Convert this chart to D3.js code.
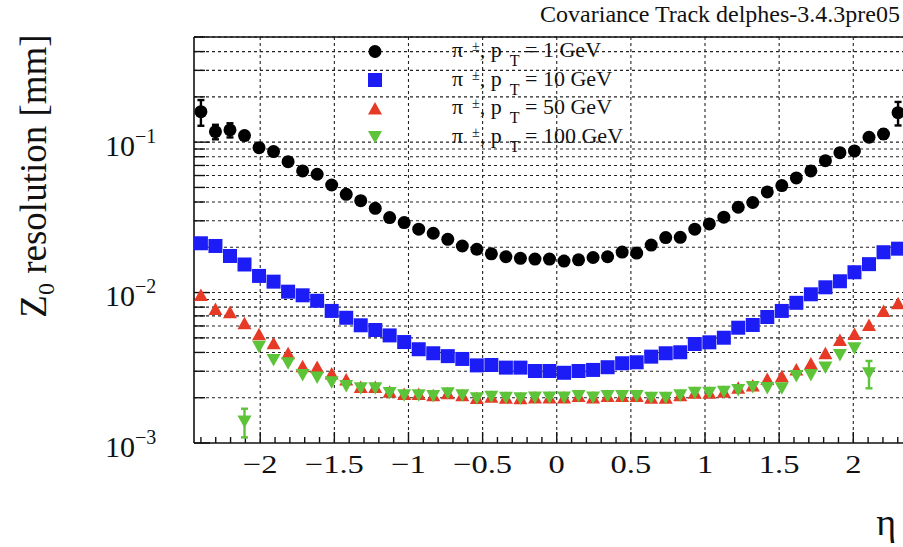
<!DOCTYPE html>
<html>
<head>
<meta charset="utf-8">
<script src="https://cdn.jsdelivr.net/npm/d3@7"></script>
<style>
  html, body { margin: 0; padding: 0; background: #fff; overflow: hidden; }
</style>
</head>
<body>
<svg id="chart" width="903" height="547"></svg>
<script>
// Pseudorapidity bin centres
const eta = [-2.400, -2.302, -2.204, -2.106, -2.008, -1.910, -1.812, -1.714, -1.616, -1.518,
             -1.420, -1.322, -1.224, -1.127, -1.029, -0.931, -0.833, -0.735, -0.637, -0.539,
             -0.441, -0.343, -0.245, -0.147, -0.049, 0.049, 0.147, 0.245, 0.343, 0.441,
             0.539, 0.637, 0.735, 0.833, 0.931, 1.029, 1.127, 1.224, 1.322, 1.420,
             1.518, 1.616, 1.714, 1.812, 1.910, 2.008, 2.106, 2.204, 2.302];

// z0 resolution [mm] for pi+- at pT = 1 GeV
const res1GeV = [0.1595, 0.1174, 0.1205, 0.1105, 0.0919, 0.0865, 0.0742, 0.0644, 0.0612, 0.0519,
                 0.0450, 0.0408, 0.0363, 0.0315, 0.0292, 0.0264, 0.0248, 0.0226, 0.0204, 0.0194,
                 0.0181, 0.0173, 0.0169, 0.0167, 0.0167, 0.0162, 0.0165, 0.0171, 0.0173, 0.0186,
                 0.0183, 0.0207, 0.0232, 0.0233, 0.0264, 0.0286, 0.0317, 0.0369, 0.0397, 0.0467,
                 0.0514, 0.0578, 0.0644, 0.0753, 0.0851, 0.0874, 0.1078, 0.1133, 0.1571];
const err1GeV = [0.031, 0.013, 0.013, 0.006, 0.003, 0.002, 0.002, 0.001, 0.001, 0.001,
                 0, 0, 0, 0, 0, 0, 0, 0, 0, 0,
                 0, 0, 0, 0, 0, 0, 0, 0, 0, 0,
                 0, 0, 0, 0, 0, 0, 0, 0, 0, 0,
                 0.001, 0.001, 0.001, 0.002, 0.002, 0.003, 0.006, 0.008, 0.028];

// pT = 10 GeV
const res10GeV = [0.02127, 0.02041, 0.01751, 0.01537, 0.01290, 0.01182, 0.01014, 0.00959, 0.00882, 0.00755,
                  0.00680, 0.00606, 0.00564, 0.00519, 0.00469, 0.00420, 0.00395, 0.00378, 0.00362, 0.00328,
                  0.00330, 0.00317, 0.00317, 0.00301, 0.00301, 0.00293, 0.00301, 0.00306, 0.00319, 0.00339,
                  0.00344, 0.00375, 0.00395, 0.00401, 0.00455, 0.00467, 0.00501, 0.00584, 0.00609, 0.00688,
                  0.00755, 0.00855, 0.00974, 0.01084, 0.01189, 0.01365, 0.01545, 0.01854, 0.01958];

// pT = 50 GeV
const res50GeV = [0.00964, 0.00778, 0.00740, 0.00625, 0.00528, 0.00460, 0.00395, 0.00324, 0.00320, 0.00290,
                  0.00264, 0.00236, 0.00236, 0.00219, 0.00212, 0.00212, 0.00208, 0.00214, 0.00208, 0.00199,
                  0.00203, 0.00200, 0.00198, 0.00201, 0.00201, 0.00201, 0.00205, 0.00201, 0.00205, 0.00205,
                  0.00205, 0.00200, 0.00200, 0.00208, 0.00216, 0.00216, 0.00219, 0.00233, 0.00241, 0.00266,
                  0.00278, 0.00308, 0.00338, 0.00395, 0.00484, 0.00531, 0.00609, 0.00755, 0.00849];

// pT = 100 GeV (no entry in the outermost bins)
const res100GeV = [null, null, null, 0.00139, 0.00437, 0.00356, 0.00339, 0.00283, 0.00273, 0.00253,
                   0.00239, 0.00231, 0.00231, 0.00215, 0.00208, 0.00208, 0.00205, 0.00214, 0.00208, 0.00198,
                   0.00203, 0.00200, 0.00198, 0.00201, 0.00201, 0.00201, 0.00205, 0.00201, 0.00205, 0.00205,
                   0.00205, 0.00200, 0.00200, 0.00208, 0.00216, 0.00216, 0.00219, 0.00225, 0.00236, 0.00232,
                   0.00231, 0.00279, 0.00283, 0.00318, 0.00385, 0.00426, 0.00291, null, null];
const err100GeV = [0, 0, 0, 0.0003, 0, 0, 0, 0, 0, 0,
                   0, 0, 0, 0, 0, 0, 0, 0, 0, 0,
                   0, 0, 0, 0, 0, 0, 0, 0, 0, 0,
                   0, 0, 0, 0, 0, 0, 0, 0, 0, 0,
                   0, 0, 0, 0, 0, 0, 0.0006, 0, 0];

const xTickValues = [-2, -1.5, -1, -0.5, 0, 0.5, 1, 1.5, 2];
const xTickLabels = ["\u22122", "\u22121.5", "\u22121", "\u22120.5", "0", "0.5", "1", "1.5", "2"];
const yDecades = [0.001, 0.01, 0.1];
const yDecadeExponents = ["\u22123", "\u22122", "\u22121"];
const legendMomenta = ["1", "10", "50", "100"];
const headerText = "Covariance Track delphes-3.4.3pre05";

const serif = "'Liberation Serif', 'Times New Roman', serif";
const svg = d3.select("#chart");

const plot = { left: 194, top: 37, bottom: 443 };
const x = d3.scaleLinear().domain([-2.45, 2.45]).range([193.5, 920]);
const y = d3.scaleLog().domain([0.001, 0.5]).range([443, 37]);

const colours = { c1: "#000000", c10: "#1c1cf6", c50: "#e63a26", c100: "#5dc43a" };

// ---- grid ----
const grid = svg.append("g").attr("stroke", "#222").attr("stroke-width", 1.1)
  .attr("stroke-dasharray", "3,3");
grid.selectAll("line.v").data(xTickValues).join("line")
  .attr("class", "v")
  .attr("x1", d => x(d)).attr("x2", d => x(d))
  .attr("y1", plot.top).attr("y2", plot.bottom);
const yTicks = y.ticks().filter(t => t > 0.001 * 1.0001);
grid.selectAll("line.h").data(yTicks).join("line")
  .attr("class", "h")
  .attr("x1", plot.left).attr("x2", 903)
  .attr("y1", d => y(d)).attr("y2", d => y(d));

// ---- axis ticks ----
const isDecade = t => Math.abs(Math.log10(t) - Math.round(Math.log10(t))) < 1e-6;
const axes = svg.append("g").attr("stroke", "#111").attr("stroke-width", 1.4);
axes.selectAll("line.yt").data(y.ticks()).join("line")
  .attr("class", "yt")
  .attr("x1", plot.left).attr("x2", d => plot.left + (isDecade(d) ? 16 : 11))
  .attr("y1", d => y(d)).attr("y2", d => y(d));
const xMinor = d3.range(-24, 25).map(k => k / 10);
axes.selectAll("line.xt").data(xMinor).join("line")
  .attr("class", "xt")
  .attr("x1", d => x(d)).attr("x2", d => x(d))
  .attr("y1", plot.bottom)
  .attr("y2", d => plot.bottom - (Math.abs(d * 2 - Math.round(d * 2)) < 1e-6 ? 11 : 6));

// ---- frame ----
const frame = svg.append("g").attr("stroke", "#111").attr("stroke-width", 1.6).attr("fill", "none");
frame.append("line").attr("x1", plot.left).attr("x2", plot.left).attr("y1", plot.top).attr("y2", plot.bottom);
frame.append("line").attr("x1", plot.left).attr("x2", 903).attr("y1", plot.bottom).attr("y2", plot.bottom);
frame.append("line").attr("x1", plot.left).attr("x2", 903).attr("y1", plot.top).attr("y2", plot.top);

// ---- markers ----
const markerPath = {
  circle: "M0,-6.5A6.5,6.5 0 1,1 0,6.5A6.5,6.5 0 1,1 0,-6.5Z",
  square: "M-7,-7H7V7H-7Z",
  up: "M0,-6.5L7,6L-7,6Z",
  down: "M0,6.5L7,-6L-7,-6Z"
};

function drawSeries(values, errors, shape, colour) {
  const pts = eta.map((e, i) => ({ e, v: values[i], err: errors ? errors[i] : 0 }))
    .filter(d => d.v != null);
  const g = svg.append("g");
  g.selectAll("g.err").data(pts.filter(d => d.err > 0)).join("g")
    .attr("class", "err")
    .attr("stroke", colour).attr("stroke-width", 2.4)
    .each(function (d) {
      const gg = d3.select(this);
      const cx = x(d.e), y1 = y(d.v + d.err), y2 = y(Math.max(d.v - d.err, 1e-4));
      gg.append("line").attr("x1", cx).attr("x2", cx).attr("y1", y1).attr("y2", y2);
      gg.append("line").attr("x1", cx - 3.5).attr("x2", cx + 3.5).attr("y1", y1).attr("y2", y1);
      gg.append("line").attr("x1", cx - 3.5).attr("x2", cx + 3.5).attr("y1", y2).attr("y2", y2);
    });
  g.selectAll("path").data(pts).join("path")
    .attr("d", markerPath[shape])
    .attr("fill", colour)
    .attr("transform", d => `translate(${x(d.e)},${y(d.v)})`);
}

drawSeries(res1GeV, err1GeV, "circle", colours.c1);
drawSeries(res10GeV, null, "square", colours.c10);
drawSeries(res50GeV, null, "up", colours.c50);
drawSeries(res100GeV, err100GeV, "down", colours.c100);

// ---- legend ----
const legendShapes = ["circle", "square", "up", "down"];
const legendColours = [colours.c1, colours.c10, colours.c50, colours.c100];
const legend = svg.append("g");
legendMomenta.forEach((p, i) => {
  const base = 57 + i * 28.5;
  legend.append("path").attr("d", markerPath[legendShapes[i]]).attr("fill", legendColours[i])
    .attr("transform", `translate(375,${base - 5.5})`);
  const t = legend.append("text").attr("x", 452).attr("y", base)
    .attr("font-family", serif).attr("font-size", 22).attr("fill", "#111");
  t.append("tspan").text("\u03c0");
  t.append("tspan").attr("font-size", 14).attr("dx", 9).attr("dy", -6).text("\u00b1");
  t.append("tspan").attr("dy", 6).text(", p");
  t.append("tspan").attr("font-size", 16).attr("dx", 8).attr("dy", 9).text("T");
  t.append("tspan").attr("dy", -9).text(` = ${p} GeV`);
});

// ---- header ----
svg.append("text").attr("x", 900).attr("y", 22).attr("text-anchor", "end")
  .attr("font-family", serif).attr("font-size", 24).attr("fill", "#111").text(headerText);

// ---- x tick labels ----
svg.append("g").selectAll("text").data(xTickValues).join("text")
  .attr("transform", d => `translate(${x(d)},473) scale(1.25,1)`)
  .attr("text-anchor", "middle")
  .attr("font-family", serif).attr("font-size", 26).attr("fill", "#111")
  .text((d, i) => xTickLabels[i]);

// ---- y tick labels ----
const yl = svg.append("g").selectAll("text").data(yDecades).join("text")
  .attr("x", 105).attr("y", d => y(d) + 13.7)
  .attr("font-family", serif).attr("font-size", 30).attr("fill", "#111");
yl.append("tspan").text("10");
yl.append("tspan").attr("font-size", 20).attr("dy", -13).text((d, i) => yDecadeExponents[i]);

// ---- axis titles ----
const yt = svg.append("text").attr("transform", "translate(46,176) rotate(-90)")
  .attr("text-anchor", "middle").attr("font-family", serif).attr("font-size", 37).attr("fill", "#111");
yt.append("tspan").text("Z");
yt.append("tspan").attr("font-size", 24).attr("dy", 8).text("0");
yt.append("tspan").attr("dy", -8).text(" resolution [mm]");

svg.append("text").attr("x", 896).attr("y", 535).attr("text-anchor", "end")
  .attr("font-family", serif).attr("font-size", 38).attr("fill", "#111").text("\u03b7");
</script>
</body>
</html>
